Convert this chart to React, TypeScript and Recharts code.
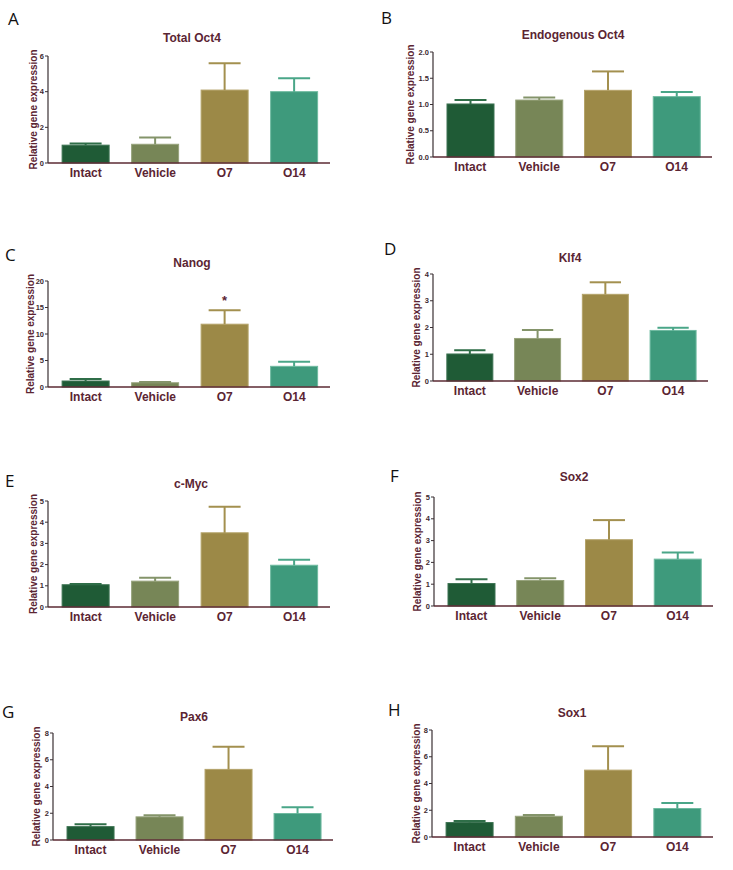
import React from 'react';
import { BarChart, Bar, XAxis, YAxis, Cell } from 'recharts';

const groups = ['Intact', 'Vehicle', 'O7', 'O14'];

const totalOct4Mean = [1.0, 1.05, 4.09, 4.0];
const totalOct4Sem = [0.09, 0.38, 1.5, 0.75];
const endoOct4Mean = [1.01, 1.085, 1.27, 1.15];
const endoOct4Sem = [0.075, 0.05, 0.36, 0.09];
const nanogMean = [1.13, 0.8, 11.85, 3.9];
const nanogSem = [0.37, 0.14, 2.65, 0.85];
const nanogMarks = ['', '', '*', ''];
const klf4Mean = [1.01, 1.59, 3.24, 1.89];
const klf4Sem = [0.14, 0.32, 0.45, 0.1];
const cMycMean = [1.05, 1.22, 3.5, 1.97];
const cMycSem = [0.03, 0.16, 1.23, 0.26];
const sox2Mean = [1.03, 1.17, 3.04, 2.15];
const sox2Sem = [0.2, 0.1, 0.9, 0.3];
const pax6Mean = [1.0, 1.73, 5.28, 1.98];
const pax6Sem = [0.18, 0.12, 1.7, 0.47];
const sox1Mean = [1.08, 1.55, 5.0, 2.13];
const sox1Sem = [0.12, 0.1, 1.78, 0.42];

const ticks6 = [0, 2, 4, 6];
const ticks2 = [0, 0.5, 1, 1.5, 2];
const ticks20 = [0, 5, 10, 15, 20];
const ticks4 = [0, 1, 2, 3, 4];
const ticks5 = [0, 1, 2, 3, 4, 5];
const ticks8 = [0, 2, 4, 6, 8];

const barColors = ['#1f5b36', '#778657', '#9c8947', '#3e9a7c'];
const errColors = ['#2f6e48', '#84946a', '#a3904f', '#4aa688'];
const edgeColors = ['#3d7352', '#97a37c', '#b4a36a', '#6fbaa0'];

const TEXT = '#5b2533';
const FONT = '"Liberation Sans", Arial, sans-serif';

const build = (mean: number[], sem: number[], marks?: string[]) =>
  groups.map((g, i) => ({ name: g, value: mean[i], sem: sem[i], mark: marks ? marks[i] : '' }));

// bar + upper error bar, error scaled from the bar's own pixel height
const BarWithError = (props: any) => {
  const { x, y, width, height, payload, index } = props;
  const pxPerUnit = payload.value ? height / payload.value : 0;
  const errTop = y - payload.sem * pxPerUnit;
  const cx = x + width / 2;
  const cap = width * 0.68;
  return (
    <g>
      <rect x={x} y={y} width={width} height={height} fill={barColors[index]} stroke={edgeColors[index]} strokeWidth={1} />
      <line x1={cx} y1={y} x2={cx} y2={errTop} stroke={errColors[index]} strokeWidth={2} />
      <line x1={cx - cap / 2} y1={errTop} x2={cx + cap / 2} y2={errTop} stroke={errColors[index]} strokeWidth={2} />
      {payload.mark ? (
        <text x={cx} y={errTop - 5} textAnchor="middle" fontFamily={FONT} fontWeight="bold" fontSize={13} fill={TEXT}>
          {payload.mark}
        </text>
      ) : null}
    </g>
  );
};

interface PanelProps {
  letter: string;
  title: string;
  data: { name: string; value: number; sem: number; mark: string }[];
  ticks: number[];
  decimals?: boolean;
  axisX: number;
  topY: number;
  zeroY: number;
  rightX: number;
  labelGap: number;
  letterX: number;
  letterY: number;
  titleX: number;
  titleY: number;
}

function Panel(p: PanelProps) {
  const mTop = 8;
  const mLeft = 10;
  const yw = 30;
  const xh = 24;
  const left = p.axisX - mLeft - yw;
  const width = p.rightX - left + 4;
  const height = p.zeroY - p.topY + mTop + xh;
  return (
    <>
      <div
        style={{
          position: 'absolute', left: p.letterX, top: p.letterY, fontFamily: '"Open Sans", sans-serif',
          fontSize: 17, color: '#111', lineHeight: '17px',
        }}
      >
        {p.letter}
      </div>
      <div
        style={{
          position: 'absolute', left: p.titleX - 100, top: p.titleY - 8, width: 200, textAlign: 'center',
          fontFamily: FONT, fontWeight: 'bold', fontSize: 12, color: TEXT, lineHeight: '16px',
        }}
      >
        {p.title}
      </div>
      <div style={{ position: 'absolute', left, top: p.topY - mTop }}>
        <BarChart width={width} height={height} data={p.data} margin={{ top: mTop, right: 4, bottom: 0, left: mLeft }} barCategoryGap="16%">
          <XAxis
            dataKey="name"
            axisLine={{ stroke: '#5b2a33', strokeWidth: 1.5 }}
            tickLine={false}
            tickSize={3}
            tickMargin={2}
            height={xh}
            padding={{ left: 3, right: 1 }}
            tick={{ fontFamily: FONT, fontWeight: 'bold', fontSize: 12, fill: TEXT }}
            interval={0}
          />
          <YAxis
            width={yw}
            domain={[0, p.ticks[p.ticks.length - 1]]}
            ticks={p.ticks}
            interval={0}
            tickSize={3}
            tickMargin={1}
            axisLine={{ stroke: '#3a2f33', strokeWidth: 1.2 }}
            tickLine={{ stroke: '#3a2f33' }}
            tickFormatter={(v: number) => (p.decimals ? v.toFixed(1) : String(v))}
            tick={{ fontFamily: FONT, fontWeight: 'bold', fontSize: 7.5, fill: '#3d2a30' }}
            label={{
              value: 'Relative gene expression',
              angle: -90,
              position: 'insideLeft',
              offset: yw - p.labelGap,
              style: { textAnchor: 'middle', fontFamily: FONT, fontWeight: 'bold', fontSize: 10, fill: TEXT },
            }}
          />
          <Bar dataKey="value" isAnimationActive={false} shape={BarWithError}>
            {p.data.map((d, i) => (
              <Cell key={d.name} fill={barColors[i]} />
            ))}
          </Bar>
        </BarChart>
      </div>
    </>
  );
}

export default function App() {
  return (
    <div style={{ position: 'absolute', left: 0, top: 0, width: 733, height: 870, background: '#fff' }}>
      <Panel letter="A" title="Total Oct4" data={build(totalOct4Mean, totalOct4Sem)} ticks={ticks6} labelGap={15}
        axisX={48} topY={56} zeroY={163} rightX={330} letterX={8} letterY={10} titleX={192} titleY={38} />
      <Panel letter="B" title="Endogenous Oct4" data={build(endoOct4Mean, endoOct4Sem)} ticks={ticks2} decimals labelGap={23}
        axisX={433} topY={52} zeroY={157} rightX={712} letterX={381} letterY={9} titleX={573} titleY={35} />
      <Panel letter="C" title="Nanog" data={build(nanogMean, nanogSem, nanogMarks)} ticks={ticks20} labelGap={18}
        axisX={48} topY={281} zeroY={387} rightX={330} letterX={5} letterY={246} titleX={192} titleY={263} />
      <Panel letter="D" title="Klf4" data={build(klf4Mean, klf4Sem)} ticks={ticks4} labelGap={17}
        axisX={433} topY={274} zeroY={381} rightX={708} letterX={384} letterY={240} titleX={570} titleY={258} />
      <Panel letter="E" title="c-Myc" data={build(cMycMean, cMycSem)} ticks={ticks5} labelGap={15}
        axisX={48} topY={501} zeroY={607} rightX={330} letterX={5} letterY={472} titleX={191} titleY={484} />
      <Panel letter="F" title="Sox2" data={build(sox2Mean, sox2Sem)} ticks={ticks5} labelGap={17}
        axisX={434} topY={497} zeroY={606} rightX={713} letterX={390} letterY={467} titleX={574} titleY={477} />
      <Panel letter="G" title="Pax6" data={build(pax6Mean, pax6Sem)} ticks={ticks8} labelGap={17}
        axisX={53} topY={733} zeroY={840} rightX={333} letterX={2} letterY={703} titleX={194} titleY={717} />
      <Panel letter="H" title="Sox1" data={build(sox1Mean, sox1Sem)} ticks={ticks8} labelGap={16}
        axisX={432} topY={730} zeroY={837} rightX={713} letterX={388} letterY={701} titleX={572} titleY={713} />
    </div>
  );
}
